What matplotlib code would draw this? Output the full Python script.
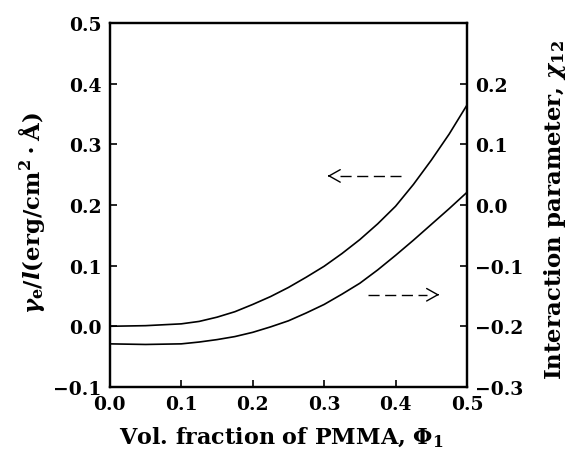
import matplotlib
matplotlib.use("Agg")
import matplotlib.pyplot as plt
import numpy as np


# volume fraction of PMMA
phi = [0.0, 0.05, 0.1, 0.125, 0.15, 0.175, 0.2, 0.225, 0.25, 0.275, 0.3,
       0.325, 0.35, 0.375, 0.4, 0.425, 0.45, 0.475, 0.5]
# gamma_e / l, left axis
gamma = [0.0, 0.001, 0.004, 0.008, 0.015, 0.024, 0.036, 0.049, 0.064, 0.081, 0.099,
         0.120, 0.143, 0.169, 0.198, 0.234, 0.274, 0.317, 0.365]
# chi_12, right axis
chi = [-0.229, -0.230, -0.229, -0.226, -0.222, -0.217, -0.210, -0.201, -0.191, -0.178, -0.164,
       -0.147, -0.129, -0.107, -0.083, -0.058, -0.032, -0.006, 0.021]

x_ticks = [0.0, 0.1, 0.2, 0.3, 0.4, 0.5]
left_ticks = [-0.1, 0.0, 0.1, 0.2, 0.3, 0.4, 0.5]
right_ticks = [-0.3, -0.2, -0.1, 0.0, 0.1, 0.2]

plt.rcParams["font.family"] = "DejaVu Serif"
plt.rcParams["font.weight"] = "bold"
plt.rcParams["axes.labelweight"] = "bold"
plt.rcParams["mathtext.fontset"] = "dejavuserif"
plt.rcParams["axes.linewidth"] = 1.6

fig = plt.figure(figsize=(5.78, 4.64), dpi=100)
ax = fig.add_axes([0.19, 0.164, 0.618, 0.784])
ax2 = ax.twinx()

ax.plot(phi, gamma, color="black", lw=1.2)
ax2.plot(phi, chi, color="black", lw=1.2)

ax.set_xlim(0.0, 0.5)
ax.set_ylim(-0.1, 0.5)
ax2.set_ylim(-0.3, 0.3)
ax.set_xticks(x_ticks)
ax.set_yticks(left_ticks)
ax2.set_yticks(right_ticks)
ax.set_xticklabels([f"{t:.1f}" for t in x_ticks])
ax.set_yticklabels([f"{t:.1f}".replace("-", "\u2212") for t in left_ticks])
ax2.set_yticklabels([f"{t:.1f}".replace("-", "\u2212") for t in right_ticks])

for a in (ax, ax2):
    a.tick_params(direction="in", length=5, width=1.2, labelsize=13.5, pad=6)
ax.tick_params(top=False, right=False)

ax.set_xlabel(r"Vol. fraction of PMMA, $\mathbf{\Phi_1}$", fontsize=16)
ax.xaxis.set_label_coords(0.48, -0.105)
ax.set_ylabel(r"$\gamma_\mathbf{e}$/$l$(erg/cm$^\mathbf{2}\cdot$Å)", fontsize=16.5)
ax.yaxis.set_label_coords(-0.175, 0.48)
ax2.set_ylabel(r"Interaction parameter, $\chi_\mathbf{12}$", fontsize=16.5)
ax2.yaxis.set_label_coords(1.21, 0.49)

# direction arrows: "<---" for left axis curve, "--->" for right axis curve
head = dict(arrowstyle="->,head_length=0.8,head_width=0.45", lw=1.0, color="black")
ax.annotate("", xy=(0.305, 0.248), xytext=(0.307, 0.248), arrowprops=head)
ax.plot([0.322, 0.407], [0.248, 0.248], color="black", lw=1.0, ls=(0, (8, 4)))
ax.annotate("", xy=(0.461, 0.052), xytext=(0.459, 0.052), arrowprops=head)
ax.plot([0.361, 0.444], [0.052, 0.052], color="black", lw=1.0, ls=(0, (8, 4)))

fig.savefig("out.png", dpi=100)
